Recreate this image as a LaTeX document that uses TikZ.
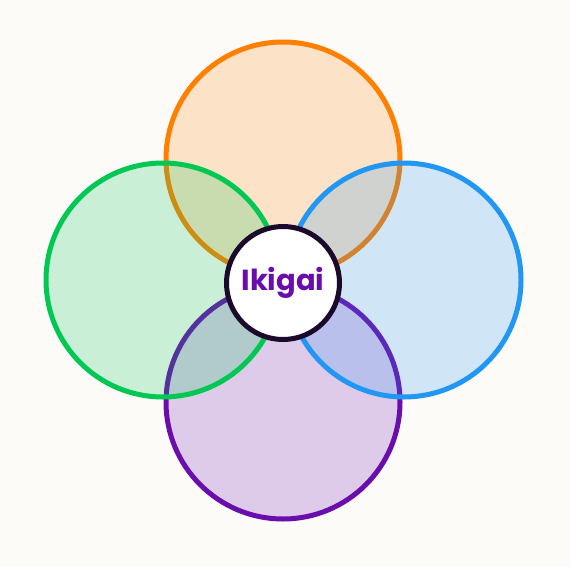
\documentclass[tikz,border=0pt]{standalone}
\usepackage{fontspec}
\newfontfamily\ikifont{Poppins}
\definecolor{ikbg}{HTML}{FCFBF8}
\definecolor{ikorange}{HTML}{FF7F00}
\definecolor{ikgreen}{HTML}{00C853}
\definecolor{ikblue}{HTML}{2196F3}
\definecolor{ikpurple}{HTML}{6A0DAD}
\definecolor{ikink}{HTML}{1C0A2C}

\begin{document}
\begin{tikzpicture}[
  x=1pt, y=-1pt,
  petal/.style={circle, draw=#1, fill=#1, fill opacity=0.2, draw opacity=1,
                line width=5pt, minimum size=234pt, inner sep=0pt},
  hub/.style={circle, draw=ikink, fill=white, line width=5pt, minimum size=113pt,
              inner sep=0pt, text=ikpurple,
              font=\ikifont\bfseries\fontsize{29}{34}\selectfont},
]

% ---------------- canvas --------------------------------------------
\fill[ikbg] (0,0) rectangle (570,567);
\useasboundingbox (0,0) rectangle (570,567);

% ---------------- the four circles ----------------------------------
\node[petal=ikorange] (love)  at (283,159) {};
\node[petal=ikpurple] (paid)  at (283,402) {};
\node[petal=ikgreen]  (skill) at (163,280) {};
\node[petal=ikblue]   (need)  at (404,280) {};

% ---------------- centre --------------------------------------------
\node[hub] (ikigai) at (283,283) {Ikigai};

\end{tikzpicture}
\end{document}
